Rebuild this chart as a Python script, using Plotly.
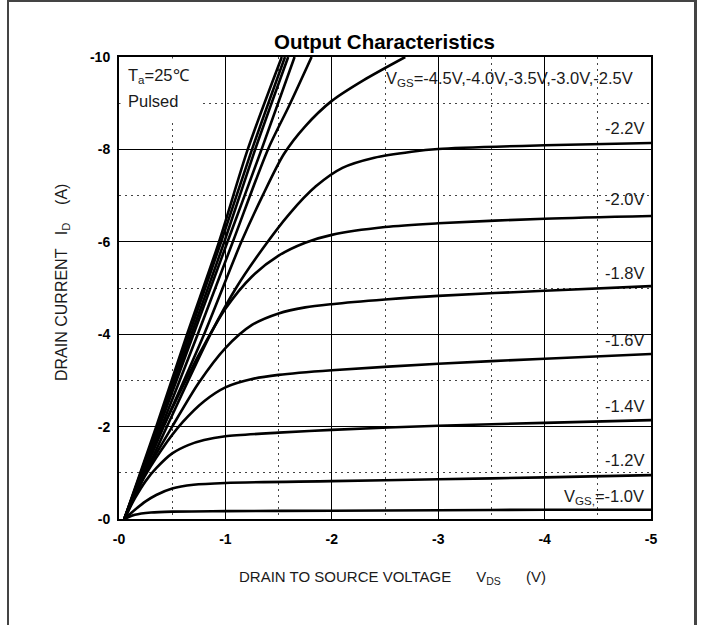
import plotly.graph_objects as go

# ---------------- data ----------------
x_ticks = [0, -1, -2, -3, -4, -5]
x_ticklabels = ["-0", "-1", "-2", "-3", "-4", "-5"]
y_ticks = [0, -2, -4, -6, -8, -10]
y_ticklabels = ["-0", "-2", "-4", "-6", "-8", "-10"]

curve_names = ["-4.5V", "-4.0V", "-3.5V", "-3.0V", "-2.8V", "-2.5V",
               "-2.2V", "-2.0V", "-1.8V", "-1.6V", "-1.4V", "-1.2V", "-1.0V"]

vds_45 = [-0.05, -0.35, -0.64, -0.94, -1.21, -1.53]
id_45 = [0, -2, -4, -6, -8, -10]
vds_40 = [-0.05, -0.36, -0.66, -0.96, -1.25, -1.56]
id_40 = [0, -2, -4, -6, -8, -10]
vds_35 = [-0.05, -0.37, -0.68, -0.99, -1.28, -1.59]
id_35 = [0, -2, -4, -6, -8, -10]
vds_30 = [-0.05, -0.38, -0.70, -1.02, -1.34, -1.65]
id_30 = [0, -2, -4, -6, -8, -10]
vds_28 = [-0.05, -0.40, -0.74, -1.07, -1.40, -1.60, -1.81]
id_28 = [0, -2, -4, -6, -8, -8.95, -10]
vds_25 = [-0.05, -0.42, -0.80, -1.15, -1.35, -1.55, -1.75, -2.0, -2.3, -2.69]
id_25 = [0, -2, -4, -6, -7.0, -7.9, -8.5, -9.05, -9.5, -10]
vds_22 = [-0.05, -0.45, -0.86, -1.1, -1.35, -1.6, -1.85, -2.1, -2.4, -2.75, -3.0, -4.0, -5.0]
id_22 = [0, -2, -4, -5.0, -5.85, -6.6, -7.2, -7.6, -7.82, -7.95, -8.01, -8.09, -8.14]
vds_20 = [-0.05, -0.25, -0.5, -0.75, -1.0, -1.25, -1.5, -1.75, -2.0, -2.5, -3.0, -4.0, -5.0]
id_20 = [0, -1.2, -2.4, -3.55, -4.55, -5.25, -5.7, -5.98, -6.15, -6.32, -6.4, -6.5, -6.56]
vds_18 = [-0.05, -0.25, -0.5, -0.75, -1.0, -1.25, -1.5, -1.75, -2.0, -2.5, -3.0, -4.0, -5.0]
id_18 = [0, -1.0, -2.0, -2.95, -3.7, -4.2, -4.45, -4.58, -4.65, -4.75, -4.83, -4.94, -5.04]
vds_16 = [-0.05, -0.2, -0.4, -0.6, -0.8, -1.0, -1.25, -1.5, -2.0, -3.0, -4.0, -5.0]
id_16 = [0, -0.75, -1.5, -2.1, -2.55, -2.85, -3.03, -3.12, -3.22, -3.36, -3.47, -3.57]
vds_14 = [-0.05, -0.15, -0.25, -0.35, -0.5, -0.65, -0.8, -1.0, -1.5, -2.0, -3.0, -4.0, -5.0]
id_14 = [0, -0.45, -0.82, -1.1, -1.42, -1.6, -1.71, -1.79, -1.87, -1.93, -2.02, -2.08, -2.14]
vds_12 = [-0.05, -0.15, -0.25, -0.35, -0.5, -0.7, -1.0, -2.0, -3.0, -4.0, -5.0]
id_12 = [0, -0.2, -0.38, -0.52, -0.66, -0.74, -0.78, -0.82, -0.86, -0.9, -0.95]
vds_10 = [-0.05, -0.15, -0.3, -0.5, -1.0, -2.0, -3.0, -4.0, -5.0]
id_10 = [0, -0.09, -0.14, -0.16, -0.17, -0.18, -0.19, -0.2, -0.2]

curves_v = [vds_45, vds_40, vds_35, vds_30, vds_28, vds_25, vds_22, vds_20,
            vds_18, vds_16, vds_14, vds_12, vds_10]
curves_i = [id_45, id_40, id_35, id_30, id_28, id_25, id_22, id_20,
            id_18, id_16, id_14, id_12, id_10]

# ---------------- layout geometry (pixels) ----------------
W, H = 702, 625
L, R, T, B = 119, 651, 57, 519
FONT = "Liberation Sans, Arial, sans-serif"
TXT = "#1a1a1a"


def px(xp):
    return (xp - L) / (R - L)


def py(yp):
    return (B - yp) / (B - T)


fig = go.Figure()
for name, vv, ii in zip(curve_names, curves_v, curves_i):
    fig.add_trace(go.Scatter(x=vv, y=ii, mode="lines", name=name,
                             line=dict(color="black", width=2.6, shape="spline", smoothing=0.8),
                             showlegend=False, hoverinfo="skip"))

axis_common = dict(showline=True, linecolor="black", linewidth=2, mirror=True,
                   showgrid=True, gridcolor="black", gridwidth=1.3, zeroline=False,
                   ticks="", tickfont=dict(family=FONT, size=14, color="black", weight="bold"))

fig.update_xaxes(range=[0, -5], tickmode="array", tickvals=x_ticks, ticktext=x_ticklabels,
                 minor=dict(tick0=0, dtick=0.5, showgrid=True, gridcolor="#444",
                            gridwidth=1.3, griddash="2px,4px"),
                 ticklabelstandoff=6, **axis_common)
fig.update_yaxes(range=[0, -10], tickmode="array", tickvals=y_ticks, ticktext=y_ticklabels,
                 minor=dict(tick0=0, dtick=1, showgrid=True, gridcolor="#444",
                            gridwidth=1.3, griddash="2px,4px"),
                 ticklabelstandoff=4, **axis_common)

ann = []
lab_font = dict(family=FONT, size=16.5, color=TXT)


def note(text, xp, yp, xa="left", font=lab_font, **kw):
    ann.append(dict(text=text, x=px(xp), y=py(yp), xref="paper", yref="paper",
                    xanchor=xa, yanchor="middle", showarrow=False, font=font, **kw))


note("<b>Output Characteristics</b>", 384, 42, xa="center",
     font=dict(family=FONT, size=20.5, color="black"))
note("T<sub>a</sub>=25℃", 126, 76)
note("Pulsed", 126, 101)
note("V<sub>GS</sub>=-4.5V,-4.0V,-3.5V,-3.0V,-2.5V", 384, 79)
right_labels = [("-2.2V", 128), ("-2.0V", 199), ("-1.8V", 273), ("-1.6V", 340),
                ("-1.4V", 406), ("-1.2V", 460), ("V<sub>GS,</sub>=-1.0V", 497)]
for t, yp in right_labels:
    note(t, 646, yp, xa="right")
nb = "\u00a0"
note("DRAIN TO SOURCE VOLTAGE" + nb * 6 + "V<sub>DS</sub>" + nb * 6 + "(V)", 392, 577,
     xa="center", font=dict(family=FONT, size=15, color=TXT))
note("DRAIN CURRENT" + nb * 3 + "I<sub>D</sub>" + nb * 4 + "(A)", 62, 283,
     xa="center", font=dict(family=FONT, size=16, color=TXT), textangle=-90)

shapes = [
    # white backing under the T_a / Pulsed note (hides the grid there; no curves pass here)
    dict(type="rect", xref="paper", yref="paper", x0=px(L + 1.5), x1=px(199), y0=py(T + 1.5), y1=py(122),
         fillcolor="white", line=dict(width=0), layer="above"),
    # outer frame
    dict(type="line", xref="paper", yref="paper", x0=px(8), x1=px(8), y0=py(0), y1=py(H),
         line=dict(color="#444", width=2)),
    dict(type="line", xref="paper", yref="paper", x0=px(7), x1=px(697), y0=py(1), y1=py(1),
         line=dict(color="#444", width=2)),
    dict(type="line", xref="paper", yref="paper", x0=px(695.5), x1=px(695.5), y0=py(0), y1=py(H),
         line=dict(color="#444", width=3)),
]

fig.update_layout(width=W, height=H, autosize=False,
                  margin=dict(l=L, r=W - R, t=T, b=H - B, pad=0),
                  paper_bgcolor="white", plot_bgcolor="white",
                  annotations=ann, shapes=shapes, showlegend=False)

fig.write_html("out.html")
